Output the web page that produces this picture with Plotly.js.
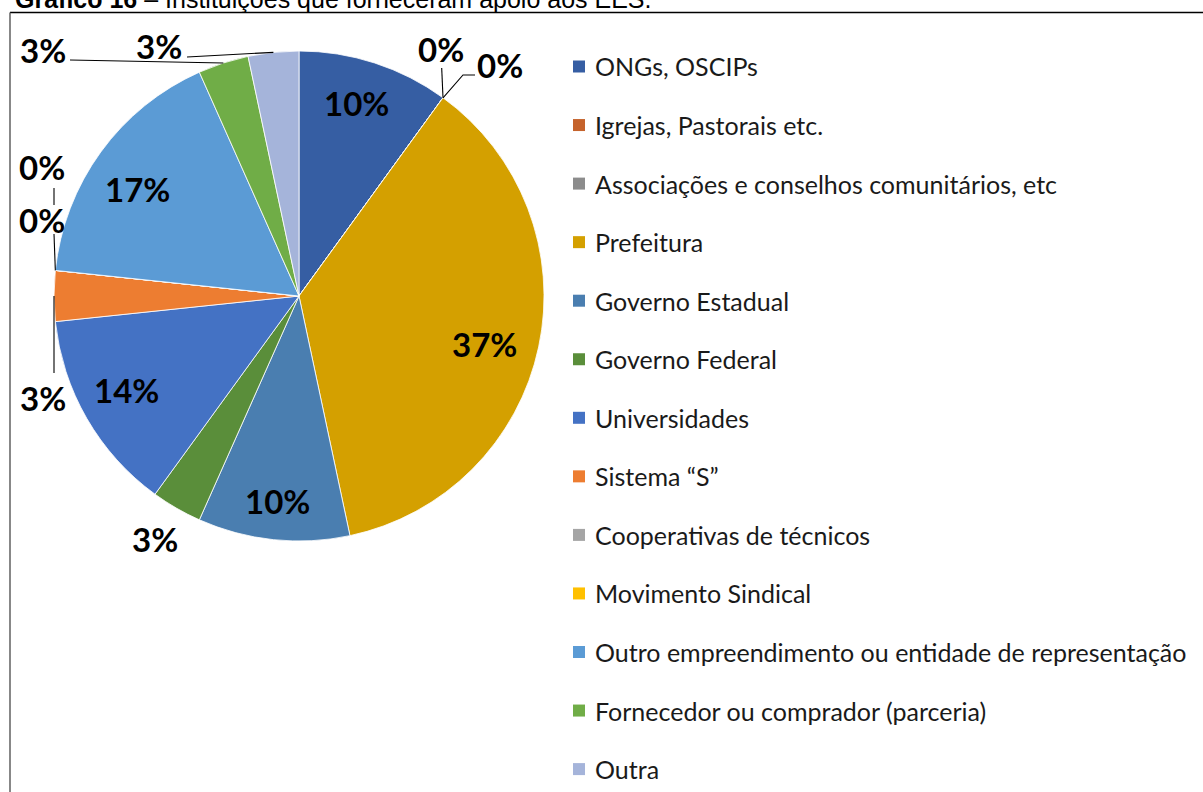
<!DOCTYPE html>
<html>
<head>
<meta charset="utf-8">
<script src="https://cdn.plot.ly/plotly-3.0.1.min.js"></script>
<style>html,body{margin:0;padding:0;background:#fff;}#chart{width:1203px;height:792px;}</style>
</head>
<body>
<div id="chart"></div>
<script>
// ---- data ----
const titleBold = "Gráfico 16";
const titleRest = " – Instituições que forneceram apoio aos EES.";
const labels = [
  "ONGs, OSCIPs",
  "Igrejas, Pastorais etc.",
  "Associações e conselhos comunitários, etc",
  "Prefeitura",
  "Governo Estadual",
  "Governo Federal",
  "Universidades",
  "Sistema “S”",
  "Cooperativas de técnicos",
  "Movimento Sindical",
  "Outro empreendimento ou entidade de representação",
  "Fornecedor ou comprador (parceria)",
  "Outra"
];
const values = [3, 0, 0, 11, 3, 1, 4, 1, 0, 0, 5, 1, 1];
const pctLabels = ["10%", "0%", "0%", "37%", "10%", "3%", "14%", "3%", "0%", "0%", "17%", "3%", "3%"];
const colors = [
  "#365EA3", "#C5632C", "#8C8C8C", "#D4A000", "#4A7EB0", "#5A8E3A",
  "#4472C4", "#ED7D31", "#A5A5A5", "#FFC000", "#5B9BD5", "#70AD47", "#A5B4DA"
];

// ---- layout / placement (pixels) ----
const W = 1203, H = 792;
const CX = 299, CY = 296, R = 245;
const px = x => x / W;
const py = y => 1 - y / H;

// label placement per slice (inside: radius fraction + angle offset in degrees)
const place = [
  {mode: "in", rf: 0.82, da: -1.5},
  {mode: "out", x: 441, y: 49, leader: [[441.7, 68]]},
  {mode: "out", x: 500, y: 65, leader: [[475, 75], [463, 75]]},
  {mode: "in", rf: 0.78, da: 2.5},
  {mode: "in", rf: 0.84, da: 0},
  {mode: "out", x: 155, y: 539, leader: null},
  {mode: "in", rf: 0.80, da: 1.5},
  {mode: "out", x: 43, y: 398, leader: [[54, 373]]},
  {mode: "out", x: 42, y: 220, leader: [[54, 234]]},
  {mode: "out", x: 42, y: 167, leaderFixed: [[54, 188], [54, 205]]},
  {mode: "in", rf: 0.79, da: -2.5},
  {mode: "out", x: 43, y: 50, leader: [[70, 60]]},
  {mode: "out", x: 159, y: 46, leader: [[187, 57]]}
];

const total = values.reduce((a, b) => a + b, 0);
const annotations = [];
const shapes = [];

function polar(angDeg, r) {
  const t = angDeg * Math.PI / 180;
  return [CX + r * Math.sin(t), CY - r * Math.cos(t)];
}

let cum = 0;
values.forEach((v, i) => {
  const a0 = cum / total * 360;
  cum += v;
  const a1 = cum / total * 360;
  const mid = (a0 + a1) / 2;
  const p = place[i];
  let lx, ly;
  if (p.mode === "in") {
    [lx, ly] = polar(mid + p.da, p.rf * R);
  } else {
    lx = p.x; ly = p.y;
    let pts = null;
    if (p.leader) pts = p.leader.concat([polar(mid, R)]);
    if (p.leaderFixed) pts = p.leaderFixed;
    if (pts) {
      let d = "";
      pts.forEach((q, k) => { d += (k ? " L " : "M ") + px(q[0]) + "," + py(q[1]); });
      shapes.push({type: "path", xref: "paper", yref: "paper", path: d,
        line: {color: "#000", width: 1.1}, layer: "above"});
    }
  }
  annotations.push({
    xref: "paper", yref: "paper", x: px(lx), y: py(ly),
    xanchor: "center", yanchor: "middle", showarrow: false,
    text: "<b>" + pctLabels[i] + "</b>",
    font: {family: "Lato, 'Open Sans', sans-serif", size: 33, color: "#000"}
  });
});

// legend drawn from labels/colors
const LEG_Y0 = 66.5, LEG_DY = 58.55;
labels.forEach((lab, i) => {
  const yc = LEG_Y0 + i * LEG_DY;
  shapes.push({type: "rect", xref: "paper", yref: "paper",
    x0: px(573), x1: px(585), y0: py(yc - 6), y1: py(yc + 6),
    fillcolor: colors[i], line: {width: 0}});
  annotations.push({
    xref: "paper", yref: "paper", x: px(593), y: py(yc),
    xanchor: "left", yanchor: "middle", showarrow: false,
    text: lab,
    font: {family: "Lato, sans-serif", size: 25, color: "#1a1a1a"}
  });
});

// chart frame
shapes.push({type: "line", xref: "paper", yref: "paper",
  x0: px(10), x1: px(1203), y0: py(12.5), y1: py(12.5), line: {color: "#000", width: 1.4}});
shapes.push({type: "line", xref: "paper", yref: "paper",
  x0: px(10), x1: px(10), y0: py(12.5), y1: py(800), line: {color: "#555", width: 1.4}});

// cut-off title
annotations.push({
  xref: "paper", yref: "paper", x: px(13), y: py(-1),
  xanchor: "left", yanchor: "middle", showarrow: false,
  text: "<b>" + titleBold + "</b>" + titleRest,
  font: {family: "'Liberation Sans', Arial, sans-serif", size: 25, color: "#000"}
});

const trace = {
  type: "pie",
  labels: labels,
  values: values,
  sort: false,
  direction: "clockwise",
  rotation: 0,
  textinfo: "none",
  hoverinfo: "label+percent",
  marker: {colors: colors, line: {color: "#ffffff", width: 0.8}},
  domain: {x: [px(CX - R), px(CX + R)], y: [py(CY + R), py(CY - R)]},
  showlegend: false
};

const layout = {
  width: W, height: H,
  margin: {l: 0, r: 0, t: 0, b: 0},
  paper_bgcolor: "#fff",
  showlegend: false,
  annotations: annotations,
  shapes: shapes
};

Plotly.newPlot("chart", [trace], layout, {displayModeBar: false, staticPlot: true});
</script>
</body>
</html>
